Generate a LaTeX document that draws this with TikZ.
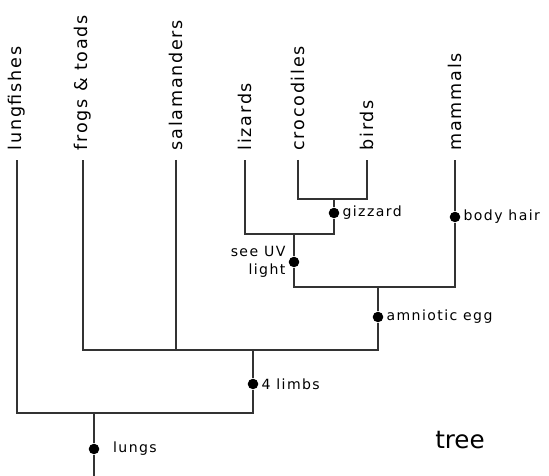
\documentclass[tikz,border=0pt]{standalone}
\usepackage{fontspec}
\usepackage{tikz}
\newfontfamily\hand[LetterSpace=10]{DejaVu Sans}

\begin{document}
\begin{tikzpicture}[x=0.02cm,y=-0.02cm,line width=0.9pt,draw=black!80,
    taxon/.style={rotate=90,anchor=west,inner xsep=5pt,inner ysep=0pt,font=\hand\fontsize{10}{12}\selectfont},
    trait/.style={fill=black,circle,minimum size=6pt,inner sep=0,label distance=2pt},
    every label/.style={font=\hand\fontsize{8}{9}\selectfont,inner sep=1pt}]
        \useasboundingbox (0,0) rectangle (549,476);
        % taxa
        \node[taxon] (lungfishes) at (17,160) {lungfishes};
        \node[taxon] (frogs) at (83,160) {frogs \& toads};
        \node[taxon] (salamanders) at (176,160) {salamanders};
        \node[taxon] (lizards) at (245,160) {lizards};
        \node[taxon] (crocodiles) at (298,160) {crocodiles};
        \node[taxon] (birds) at (367,160) {birds};
        \node[taxon] (mammals) at (455,160) {mammals};
        % traits
        \node[trait,label=right:gizzard] (gizzard) at (334,213) {};
        \node[trait,label={[align=right,font=\hand\fontsize{8}{10}\selectfont]left:see UV\\light}] (uv) at (294,262) {};
        \node[trait,label=right:body hair] (hair) at (455,217) {};
        \node[trait,label=right:amniotic egg] (amnio) at (378,317) {};
        \node[trait,label=right:4 limbs] (limbs) at (253,384) {};
        \node[trait,label={[label distance=6pt]right:lungs}] (lungs) at (94,449) {};
        % splits
        \coordinate (cbbar) at (334,199);
        \coordinate (lzbar) at (294,234);
        \coordinate (ambar) at (378,287);
        \coordinate (tetbar) at (253,350);
        \coordinate (rootbar) at (94,413);
        \coordinate (base) at (94,476);
        \draw (crocodiles) |- (cbbar) -| (birds);
        \draw (cbbar) -- (gizzard) |- (lzbar) -| (lizards);
        \draw (lzbar) -- (uv) |- (ambar) -| (hair) -- (mammals);
        \draw (ambar) -- (amnio) |- (tetbar) -| (frogs);
        \draw (salamanders) -- (salamanders |- tetbar);
        \draw (tetbar) -- (limbs) |- (rootbar) -| (lungfishes);
        \draw (rootbar) -- (lungs) -- (base);
        \node[font=\fontspec{DejaVu Sans}\fontsize{14}{16}\selectfont] (title) at (460,440) {tree};
      \end{tikzpicture}
\end{document}
